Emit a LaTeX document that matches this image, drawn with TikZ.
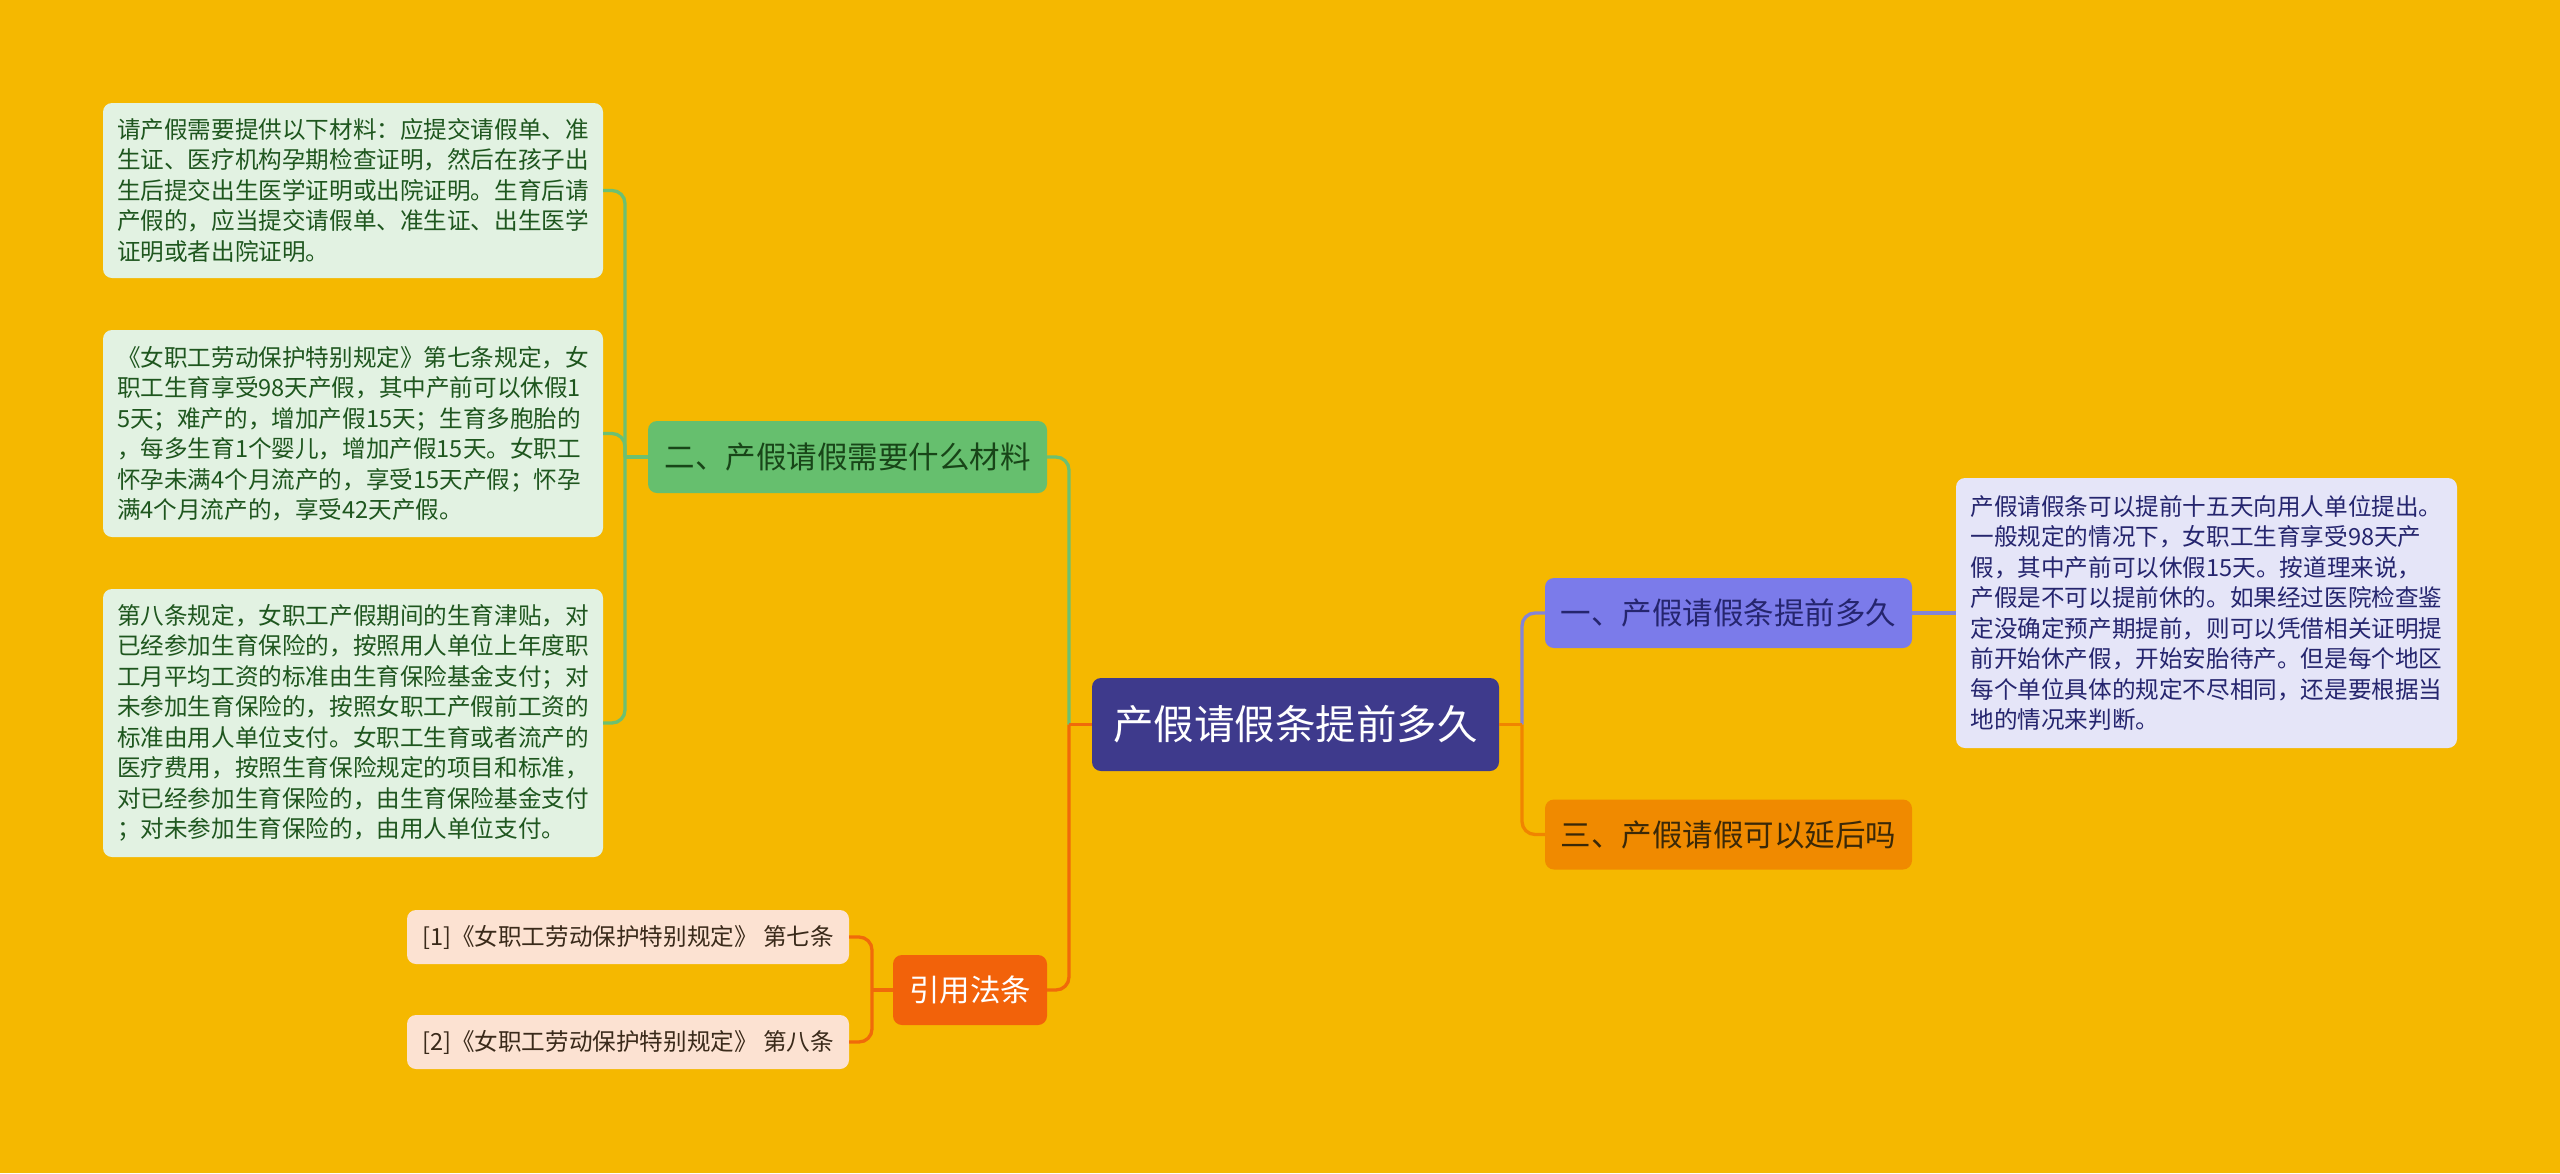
\documentclass[tikz,border=0pt]{standalone}
\usepackage{fontspec}
\setmainfont{Noto Sans CJK SC}
\definecolor{bg}{HTML}{F5B800}
\definecolor{cfill}{HTML}{3E3A8C}
\definecolor{pfill}{HTML}{7B7BEA}
\definecolor{pleaf}{HTML}{E5E5F8}
\definecolor{ptext}{HTML}{25256E}
\definecolor{pline}{HTML}{8484D6}
\definecolor{gfill}{HTML}{66BF6E}
\definecolor{gleaf}{HTML}{E2F2E2}
\definecolor{gtext}{HTML}{1E561E}
\definecolor{gline}{HTML}{6CC072}
\definecolor{ofill}{HTML}{F08A00}
\definecolor{oline}{HTML}{F08400}
\definecolor{rfill}{HTML}{F2620A}
\definecolor{rleaf}{HTML}{FCE2D2}
\definecolor{rline}{HTML}{F06A0A}
\definecolor{rtext}{HTML}{3A2A1A}
\definecolor{otext}{HTML}{3A2808}
\tikzset{
  box/.style={rounded corners=9pt, inner sep=0pt, align=center},
  rootbox/.style={box, fill=cfill, text=white, font=\fontsize{40.5}{48}\selectfont},
  branchbox/.style={box, font=\fontsize{30.5}{36}\selectfont, minimum height=70pt},
  leafbox/.style={box, align=left, font=\fontsize{23.6}{30.5}\selectfont},
  conn/.style={line width=3.3pt},
  elbow/.style={line width=3.3pt, rounded corners=13pt},
}
\begin{document}
\begin{tikzpicture}[x=1pt,y=-1pt]
\fill[bg] (0,0) rectangle (2560,1173);
\useasboundingbox (0,0) rectangle (2560,1173);

% root
\node[rootbox, minimum width=407pt, minimum height=93pt] (c) at (1295.5,724.5) {产假请假条提前多久};

% right branches
\node[branchbox, fill=pfill, text=ptext, minimum width=367pt] (b1) at (1728.5,613) {一、产假请假条提前多久};
\node[branchbox, fill=ofill, text=otext, minimum width=367pt] (b3) at (1728.5,834.5) {三、产假请假可以延后吗};
\node[leafbox, fill=pleaf, text=ptext, minimum width=501pt, minimum height=270pt] (l1) at (2206.5,613) {产假请假条可以提前十五天向用人单位提出。\\一般规定的情况下，女职工生育享受98天产\\假，其中产前可以休假15天。按道理来说，\\产假是不可以提前休的。如果经过医院检查鉴\\定没确定预产期提前，则可以凭借相关证明提\\前开始休产假，开始安胎待产。但是每个地区\\每个单位具体的规定不尽相同，还是要根据当\\地的情况来判断。};

% left branches
\node[branchbox, fill=gfill, text=gtext!80!black, minimum width=399pt, minimum height=72pt] (b2) at (847.5,457) {二、产假请假需要什么材料};
\node[branchbox, fill=rfill, text=white, minimum width=154pt] (b4) at (970,990) {引用法条};

\node[leafbox, fill=gleaf, text=gtext, minimum width=500pt, minimum height=175pt] (l2a) at (353,190.5) {请产假需要提供以下材料：应提交请假单、准\\生证、医疗机构孕期检查证明，然后在孩子出\\生后提交出生医学证明或出院证明。生育后请\\产假的，应当提交请假单、准生证、出生医学\\证明或者出院证明。};
\node[leafbox, fill=gleaf, text=gtext, minimum width=500pt, minimum height=207pt] (l2b) at (353,433.5) {《女职工劳动保护特别规定》第七条规定，女\\职工生育享受98天产假，其中产前可以休假1\\5天；难产的，增加产假15天；生育多胞胎的\\，每多生育1个婴儿，增加产假15天。女职工\\怀孕未满4个月流产的，享受15天产假；怀孕\\满4个月流产的，享受42天产假。};
\node[leafbox, fill=gleaf, text=gtext, minimum width=500pt, minimum height=268pt] (l2c) at (353,723) {第八条规定，女职工产假期间的生育津贴，对\\已经参加生育保险的，按照用人单位上年度职\\工月平均工资的标准由生育保险基金支付；对\\未参加生育保险的，按照女职工产假前工资的\\标准由用人单位支付。女职工生育或者流产的\\医疗费用，按照生育保险规定的项目和标准，\\对已经参加生育保险的，由生育保险基金支付\\；对未参加生育保险的，由用人单位支付。};

\node[leafbox, fill=rleaf, text=rtext, minimum width=442pt, minimum height=54pt] (l4a) at (628,937) {[1]《女职工劳动保护特别规定》 第七条};
\node[leafbox, fill=rleaf, text=rtext, minimum width=442pt, minimum height=54pt] (l4b) at (628,1042) {[2]《女职工劳动保护特别规定》 第八条};

% junctions
\coordinate (jr) at (1522,724.5);
\coordinate (jl) at (1069,724.5);
\coordinate (j2) at (625,457);
\coordinate (j4) at (872,990);

% connectors
\draw[elbow, draw=pline] (jr) |- (b1.west);
\draw[elbow, draw=oline] (jr) |- (b3.west);
\draw[conn, draw=oline] (c.east) -- (jr);
\draw[conn, draw=pline] (b1.east) -- (l1.west);
\draw[elbow, draw=gline] (jl) |- (b2.east);
\draw[elbow, draw=rline] (jl) |- (b4.east);
\draw[conn, draw=rline] (c.west) -- (jl);
\draw[elbow, draw=gline] (j2) |- (l2a.east);
\draw[elbow, draw=gline] (j2) |- (l2b.east);
\draw[elbow, draw=gline] (j2) |- (l2c.east);
\draw[conn, draw=gline] (b2.west) -- (j2);
\draw[elbow, draw=rline] (j4) |- (l4a.east);
\draw[elbow, draw=rline] (j4) |- (l4b.east);
\draw[conn, draw=rline] (b4.west) -- (j4);
\end{tikzpicture}
\end{document}
